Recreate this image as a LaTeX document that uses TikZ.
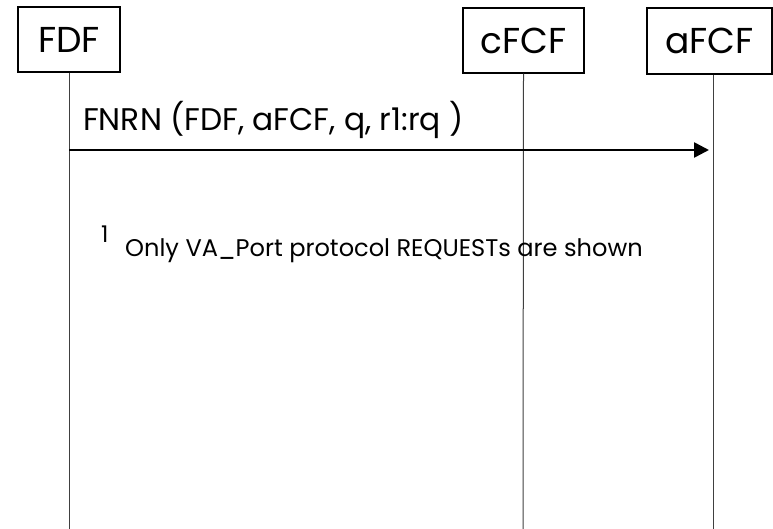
\documentclass[tikz,border=0pt]{standalone}
\usepackage{fontspec}
\setmainfont{Poppins}
\usetikzlibrary{arrows.meta}
\begin{document}
\begin{tikzpicture}[x=1pt,y=-1pt,
  entity/.style={draw=black,line width=1.3pt,inner sep=0pt,font=\fontsize{36}{40}\selectfont},
  lifeline/.style={draw=black!75,line width=1pt},
  msg/.style={draw=black,line width=2.6pt,-{Triangle[length=15pt,width=15pt]}},
  msglabel/.style={inner sep=0pt,anchor=base west,font=\fontsize{31.3}{34}\selectfont},
  note/.style={inner sep=0pt,anchor=base west,font=\fontsize{24.1}{28}\selectfont}]
  \useasboundingbox (0,0) rectangle (773,529);
  % participants
  \node[entity,minimum width=102pt,minimum height=65pt] (fdf) at (69,39.5) {FDF};
  \node[entity,minimum width=121pt,minimum height=65pt] (cfcf) at (523.5,40.5) {cFCF};
  \node[entity,minimum width=125pt,minimum height=66pt] (afcf) at (709.5,41) {aFCF};
  % lifelines
  \coordinate (fdfend) at (69,529);
  \coordinate (cfcfend) at (523,529);
  \coordinate (afcfend) at (713,529);
  \draw[lifeline] (fdf.south) -- (fdfend);
  \draw[lifeline] (cfcf.south) -- (cfcfend);
  \draw[lifeline] (afcf.south -| afcfend) -- (afcfend);
  % message
  \coordinate (m0) at (69,150);
  \coordinate (m1) at (709,150);
  \draw[msg] (m0) -- (m1);
  \node[msglabel] (fnrn) at (83,131) {FNRN (FDF, aFCF, q, r1:rq )};
  % footnote
  \node[inner sep=0pt,anchor=base west,font=\fontsize{23}{26}\selectfont] (fnmark) at (101,243) {1};
  \node[note] (fntext) at (125,256) {Only VA\_Port protocol REQUESTs are shown};
\end{tikzpicture}
\end{document}
